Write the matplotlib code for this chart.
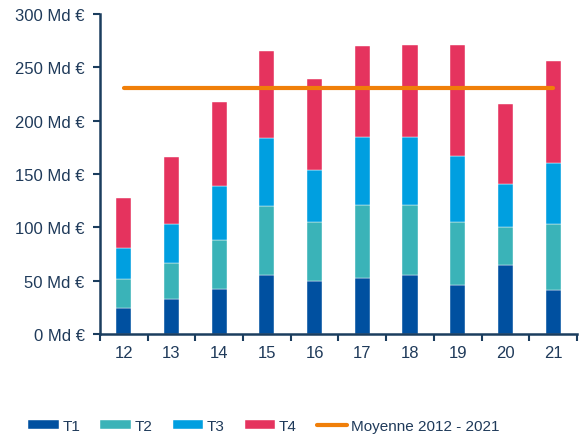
import numpy as np
import matplotlib.pyplot as plt
from matplotlib.ticker import FixedLocator

plt.rcParams['font.family'] = ['Liberation Sans', 'DejaVu Sans']

# Data (Md EUR per quarter)
years = ["12", "13", "14", "15", "16", "17", "18", "19", "20", "21"]
t1 = [24, 32.5, 42, 55, 49.4, 52.2, 55, 46.3, 65, 41.3]
t2 = [27.6, 34, 46.5, 65.3, 56, 69, 66.3, 59, 35.6, 62.1]
t3 = [29, 37, 50.5, 63.7, 48.5, 63.5, 63.5, 61.3, 40, 57.2]
t4 = [47.2, 62, 78, 81.6, 85, 85.3, 86.5, 104, 74.7, 95.6]
moyenne = 230.3

text_col = "#1f3a5a"
axis_col = "#1b3d5e"
colors = ["#0050a0", "#3ab3b8", "#009fe0", "#e5335e"]

fig = plt.figure(figsize=(5.84, 4.39), dpi=100)
ax = fig.add_axes([0.171, 0.237, 0.817, 0.729])

x = np.arange(len(years))
bottom = np.zeros(len(years))
handles = []
for vals, col, lab in zip([t1, t2, t3, t4], colors, ["T1", "T2", "T3", "T4"]):
    b = ax.bar(x, vals, width=0.32, bottom=bottom, color=col, label=lab,
               edgecolor="white", linewidth=0.3)
    handles.append(b)
    bottom += np.array(vals)

line, = ax.plot([x[0], x[-1]], [moyenne, moyenne], color="#f07f09", lw=3,
                label="Moyenne 2012 - 2021", solid_capstyle="round")
handles.append(line)

ax.set_xlim(-0.5, len(years) - 0.5)
ax.set_ylim(0, 300)
ax.set_yticks(range(0, 301, 50))
ax.set_yticklabels([f"{v} Md €" for v in range(0, 301, 50)])
ax.set_xticks(x)
ax.set_xticklabels(years)
ax.xaxis.set_minor_locator(FixedLocator(np.arange(-0.5, len(years), 1)))
ax.tick_params(axis="x", which="major", length=0, pad=8)
ax.tick_params(axis="x", which="minor", length=5, width=1.5, color=axis_col)
ax.tick_params(axis="y", length=5, width=1.5, color=axis_col, pad=6)
ax.tick_params(labelsize=12, labelcolor=text_col)

for s in ["top", "right"]:
    ax.spines[s].set_visible(False)
for s in ["left", "bottom"]:
    ax.spines[s].set_color(axis_col)
    ax.spines[s].set_linewidth(1.8)

fig.legend(handles=handles, labels=[h.get_label() for h in handles],
           loc="lower left", bbox_to_anchor=(0.025, -0.02), ncol=5, frameon=False,
           fontsize=11, labelcolor=text_col, handlelength=2.0, handleheight=0.6,
           columnspacing=1.3, handletextpad=0.25)

plt.savefig("out.png", dpi=100)
